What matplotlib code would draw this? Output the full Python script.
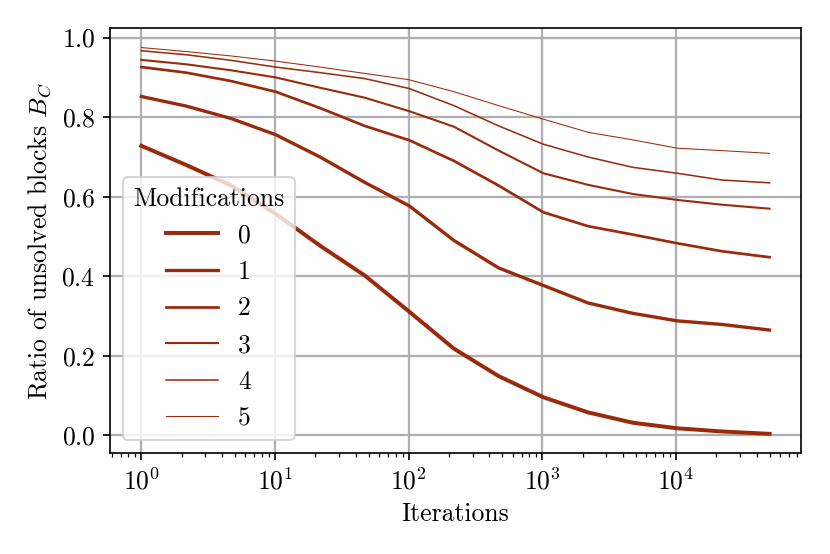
import matplotlib
matplotlib.use('Agg')
import matplotlib.pyplot as plt

plt.rcParams['font.family'] = 'serif'
plt.rcParams['font.serif'] = ['cmr10']
plt.rcParams['mathtext.fontset'] = 'cm'
plt.rcParams['axes.formatter.use_mathtext'] = True
plt.rcParams['axes.unicode_minus'] = False
plt.rcParams['font.size'] = 12.3

iterations = [1, 2.16, 4.66, 10.1, 21.7, 46.9, 101, 218, 471, 1017, 2194, 4734, 10214, 22039, 50000]

mod0 = [0.728, 0.680, 0.629, 0.557, 0.477, 0.402, 0.311, 0.218, 0.149, 0.096, 0.058, 0.032, 0.018, 0.010, 0.004]
mod1 = [0.852, 0.828, 0.797, 0.756, 0.700, 0.636, 0.577, 0.490, 0.421, 0.377, 0.333, 0.307, 0.288, 0.279, 0.265]
mod2 = [0.926, 0.912, 0.891, 0.864, 0.823, 0.778, 0.742, 0.690, 0.628, 0.561, 0.526, 0.505, 0.483, 0.463, 0.448]
mod3 = [0.944, 0.933, 0.918, 0.900, 0.874, 0.849, 0.815, 0.776, 0.716, 0.659, 0.630, 0.607, 0.592, 0.580, 0.570]
mod4 = [0.967, 0.957, 0.943, 0.926, 0.912, 0.897, 0.872, 0.829, 0.778, 0.732, 0.700, 0.674, 0.659, 0.642, 0.635]
mod5 = [0.975, 0.965, 0.954, 0.941, 0.926, 0.910, 0.894, 0.864, 0.829, 0.795, 0.762, 0.743, 0.722, 0.716, 0.709]

series = [mod0, mod1, mod2, mod3, mod4, mod5]
labels = ['0', '1', '2', '3', '4', '5']
widths = [1.9, 1.6, 1.3, 1.0, 0.75, 0.5]
color = '#9a2a0c'

fig = plt.figure(figsize=(830 / 150, 554 / 150), dpi=150)
ax = fig.add_axes([0.1325, 0.182, 0.8325, 0.767])

for vals, lab, lw in zip(series, labels, widths):
    ax.plot(iterations, vals, color=color, lw=lw, label=lab)

ax.set_xscale('log')
ax.set_xlabel('Iterations')
ax.set_ylabel('Ratio of unsolved blocks $B_C$')
ax.grid(True, color='#b0b0b0', lw=1.1)
ax.set_axisbelow(True)
ax.legend(title='Modifications', loc='lower left')

fig.savefig('out.png', dpi=150)
